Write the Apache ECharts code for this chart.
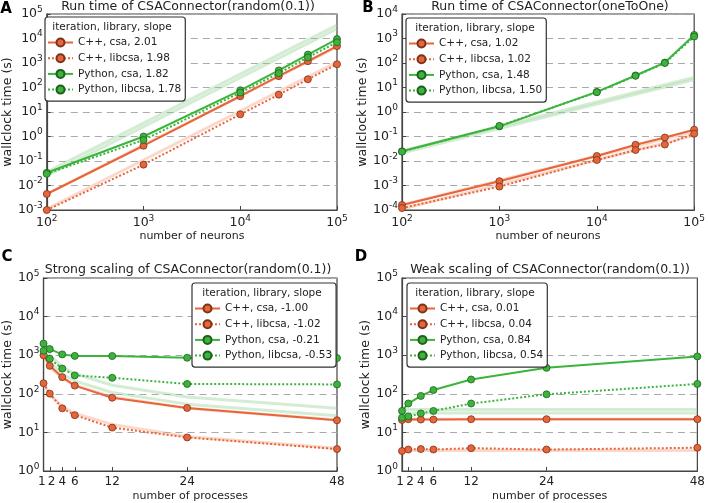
<!DOCTYPE html>
<html><head><meta charset="utf-8">
<script src="https://cdn.jsdelivr.net/npm/echarts@6/dist/echarts.min.js"></script>
<style>html,body{margin:0;padding:0;background:#fff}#c{width:708px;height:503px}</style>
</head><body><div id="c"></div>
<script>
// ---------- data ----------
const xNeurons = [100, 1000, 10000, 25000, 50000, 100000];
const xProc = [1, 2, 4, 6, 12, 24, 48];
const procTicks = [1, 2, 4, 6, 12, 24, 48];

const seriesNames = ['C++, csa', 'C++, libcsa', 'Python, csa', 'Python, libcsa'];
const slopesA = ['2.01', '1.98', '1.82', '1.78'];
const slopesB = ['1.02', '1.02', '1.48', '1.50'];
const slopesC = ['-1.00', '-1.02', '-0.21', '-0.53'];
const slopesD = ['0.01', '0.04', '0.84', '0.54'];

// Panel A: run time random(0.1)
const aCppCsa = [0.0045, 0.42, 44, 290, 1180, 4900];
const aCppLib = [0.001, 0.071, 8, 51, 217, 890];
const aPyCsa  = [0.033, 1.0, 77, 500, 2200, 9500];
const aPyLib  = [0.03, 0.72, 62, 380, 1700, 7000];
const aCppCsaRef = [0.0045, 0.45, 45, 281, 1125, 4500];
const aCppLibRef = [0.0011, 0.11, 11, 69, 275, 1100];
const aPyCsaRef  = [0.035, 3.5, 350, 2190, 8750, 35000];
const aPyLibRef  = [0.025, 2.5, 250, 1560, 6250, 25000];

// Panel B: run time oneToOne
const bCppCsa = [1.6e-4, 1.5e-3, 0.016, 0.046, 0.091, 0.19];
const bCppLib = [1.2e-4, 9e-4, 0.011, 0.028, 0.047, 0.13];
const bPyCsa  = [0.025, 0.26, 6.6, 31, 104, 1400];
const bPyLib  = [0.024, 0.27, 6.4, 30, 100, 1200];
const bCppCsaRef = [1.6e-4, 1.6e-3, 0.016, 0.04, 0.08, 0.16];
const bCppLibRef = [1.1e-4, 1.1e-3, 0.011, 0.0275, 0.055, 0.11];
const bPyCsaRef  = [0.026, 0.26, 2.6, 6.5, 13, 26];
const bPyLibRef  = [0.021, 0.21, 2.1, 5.25, 10.5, 21];

// Panel C: strong scaling
const cCppCsa = [1000, 530, 270, 163, 79, 43, 20.6];
const cCppLib = [188, 101, 42, 28, 13.3, 7.4, 3.7];
const cPyCsa  = [2000, 1440, 1050, 960, 950, 860, 840];
const cPyLib  = [1300, 810, 450, 300, 260, 180, 175];
const cCppCsaRef = [1000, 500, 250, 167, 83, 42, 21];
const cCppLibRef = [188, 94, 47, 31, 16, 7.8, 3.9];
const cPyCsaRef  = [2000, 1000, 500, 333, 167, 83, 42];
const cPyLibRef  = [1300, 650, 325, 217, 108, 54, 27];

// Panel D: weak scaling
const dCppCsa = [21, 22, 21.5, 21.5, 22, 22, 22];
const dCppLib = [3.3, 3.6, 3.7, 3.6, 3.9, 3.6, 4.0];
const dPyCsa  = [36, 56, 88, 125, 235, 470, 930];
const dPyLib  = [24, 26, 31, 36, 56, 97, 180];
const dCppCsaRef = [22, 22, 22, 22, 22, 22, 22];
const dCppLibRef = [3.4, 3.4, 3.4, 3.4, 3.4, 3.4, 3.4];
const dPyCsaRef  = [39, 39, 39, 39, 39, 39, 39];
const dPyLibRef  = [32, 32, 32, 32, 32, 32, 32];

// ---------- styling ----------
const FONT = 'DejaVu Sans';
const ORANGE = '#e8643a', GREEN = '#3cb43c';
const ORANGE_EDGE = '#7a3418', GREEN_EDGE = '#1f5f1f';
const ORANGE_FAINT = '#f0a080', GREEN_FAINT = '#90d090';
const TXT = '#222', FRAME = '#444';

const grids = [
  {left: 40, top: 14, width: 297, height: 196},
  {left: 402, top: 14, width: 296, height: 196},
  {left: 39, top: 278, width: 298, height: 196},
  {left: 402, top: 278, width: 297, height: 196}
];

function pairs(xs, ys) { return xs.map((x, i) => [x, ys[i]]); }
function sup(v) {
  const e = Math.round(Math.log10(v));
  return '{b|10}{s|' + (e < 0 ? '-' + (-e) : e) + '}';
}
const supRich = {
  b: {fontSize: 12.5, fontFamily: FONT, color: TXT},
  s: {fontSize: 9, fontFamily: FONT, color: TXT, padding: [0, 0, 9, 0]}
};

function logY(gi, min, max) {
  return {
    type: 'log', logBase: 10, gridIndex: gi, min: min, max: max,
    splitNumber: Math.round(Math.log10(max / min)),
    name: 'wallclock time (s)', nameLocation: 'middle', nameGap: 27,
    nameTextStyle: {fontFamily: FONT, fontSize: 12.5, color: TXT},
    axisLine: {show: true, lineStyle: {color: FRAME, width: 1.2}},
    axisTick: {show: true, inside: true, length: 4, lineStyle: {color: FRAME}},
    axisLabel: {formatter: sup, rich: supRich, margin: 4},
    splitLine: {show: true, lineStyle: {color: '#aaa', type: [7, 5], width: 1}}
  };
}
function logX(gi) {
  return {
    type: 'log', logBase: 10, gridIndex: gi, min: 100, max: 100000, splitNumber: 3,
    name: 'number of neurons', nameLocation: 'middle', nameGap: 18,
    nameTextStyle: {fontFamily: FONT, fontSize: 11, color: TXT},
    axisLine: {show: true, lineStyle: {color: FRAME, width: 1.2}},
    axisTick: {show: true, inside: true, length: 4, lineStyle: {color: FRAME}},
    axisLabel: {formatter: sup, rich: supRich, margin: 4},
    splitLine: {show: false}
  };
}
function procX(gi) {
  return {
    type: 'value', gridIndex: gi, min: 1, max: 48,
    name: 'number of processes', nameLocation: 'middle', nameGap: 20,
    nameTextStyle: {fontFamily: FONT, fontSize: 11, color: TXT},
    axisLine: {show: true, lineStyle: {color: FRAME, width: 1.2}},
    axisTick: {show: true, inside: true, length: 4, customValues: procTicks, lineStyle: {color: FRAME}},
    axisLabel: {customValues: procTicks, fontFamily: FONT, fontSize: 12, color: TXT, margin: 5,
      showMinLabel: true, showMaxLabel: true, hideOverlap: false,
      formatter: v => v === 1 ? '{l|1}' : (v === 2 ? '{r|2}' : String(v)),
      rich: {
        l: {fontFamily: FONT, fontSize: 12, color: TXT, width: 4, align: 'right'},
        r: {fontFamily: FONT, fontSize: 12, color: TXT, width: 4, align: 'left'}
      }},
    splitLine: {show: false}
  };
}

const series = [];
function addPanel(gi, xs, vals, refs, slopes) {
  const colors = [ORANGE, ORANGE, GREEN, GREEN];
  const edges = [ORANGE_EDGE, ORANGE_EDGE, GREEN_EDGE, GREEN_EDGE];
  const faint = [ORANGE_FAINT, ORANGE_FAINT, GREEN_FAINT, GREEN_FAINT];
  const types = ['solid', 'dotted', 'solid', 'dotted'];
  refs.forEach((r, i) => {
    series.push({
      type: 'line', xAxisIndex: gi, yAxisIndex: gi, data: pairs(xs, r),
      symbol: 'none', silent: true, z: 1,
      lineStyle: {color: faint[i], width: 3, opacity: 0.4}
    });
  });
  const names = [];
  vals.forEach((v, i) => {
    const nm = seriesNames[i] + ', ' + slopes[i];
    names.push(nm);
    series.push({
      name: nm, type: 'line', xAxisIndex: gi, yAxisIndex: gi, data: pairs(xs, v),
      symbol: 'circle', symbolSize: 7, z: 3 + (i >= 2 ? 1 : 0),
      lineStyle: {color: colors[i], width: 2, type: types[i]},
      itemStyle: {color: colors[i], borderColor: edges[i], borderWidth: 0.8}
    });
  });
  return names;
}
const nA = addPanel(0, xNeurons, [aCppCsa, aCppLib, aPyCsa, aPyLib], [aCppCsaRef, aCppLibRef, aPyCsaRef, aPyLibRef], slopesA);
const nB = addPanel(1, xNeurons, [bCppCsa, bCppLib, bPyCsa, bPyLib], [bCppCsaRef, bCppLibRef, bPyCsaRef, bPyLibRef], slopesB);
const nC = addPanel(2, xProc, [cCppCsa, cCppLib, cPyCsa, cPyLib], [cCppCsaRef, cCppLibRef, cPyCsaRef, cPyLibRef], slopesC);
const nD = addPanel(3, xProc, [dCppCsa, dCppLib, dPyCsa, dPyLib], [dCppCsaRef, dCppLibRef, dPyCsaRef, dPyLibRef], slopesD);

function legend(names, left, top) {
  return {
    data: names, orient: 'vertical', left: left, top: top,
    itemWidth: 25, itemHeight: 10, itemGap: 4.7,
    padding: [20, 4, 6, 2],
    textStyle: {fontFamily: FONT, fontSize: 10.5, color: TXT},
    backgroundColor: '#fff', borderColor: '#333', borderWidth: 1.2, borderRadius: 3,
    selectedMode: false, z: 10
  };
}
const legendTitle = 'iteration, library, slope';
function ltext(x, y) {
  return {type: 'text', x: x, y: y, z: 100,
    style: {text: legendTitle, fontFamily: FONT, fontSize: 10.5, fill: TXT, align: 'center', verticalAlign: 'middle'}};
}
function letter(t, x, y) {
  return {type: 'text', x: x, y: y, z: 100,
    style: {text: t, fontFamily: FONT, fontSize: 15, fontWeight: 'bold', fill: '#000', align: 'center', verticalAlign: 'middle'}};
}
function ttl(text, cx, top) {
  return {text: text, left: cx, top: top, textAlign: 'center', padding: 0,
    textStyle: {fontFamily: FONT, fontSize: 12.5, fontWeight: 'normal', color: TXT}};
}

const option = {
  animation: false,
  backgroundColor: '#fff',
  title: [
    ttl('Run time of CSAConnector(random(0.1))', 188, 0),
    ttl('Run time of CSAConnector(oneToOne)', 550, 0),
    ttl('Strong scaling of CSAConnector(random(0.1))', 188, 263),
    ttl('Weak scaling of CSAConnector(random(0.1))', 550, 263)
  ],
  grid: grids.map(g => Object.assign({show: true, borderColor: FRAME, borderWidth: 1.2, backgroundColor: 'transparent'}, g)),
  xAxis: [logX(0), logX(1), procX(2), procX(3)],
  yAxis: [logY(0, 1e-3, 1e5), logY(1, 1e-4, 1e4), logY(2, 1, 1e5), logY(3, 1, 1e5)],
  legend: [legend(nA, 45, 17), legend(nB, 406, 18), legend(nC, 192, 283), legend(nD, 407, 283)],
  graphic: [
    ltext(112, 27), ltext(475, 28), ltext(262, 293), ltext(475, 293),
    letter('A', 6, 9), letter('B', 368, 8), letter('C', 7, 257), letter('D', 361, 257)
  ],
  series: series
};
const chart = echarts.init(document.getElementById('c'), null, {renderer: 'canvas'});
chart.setOption(option);
</script></body></html>
